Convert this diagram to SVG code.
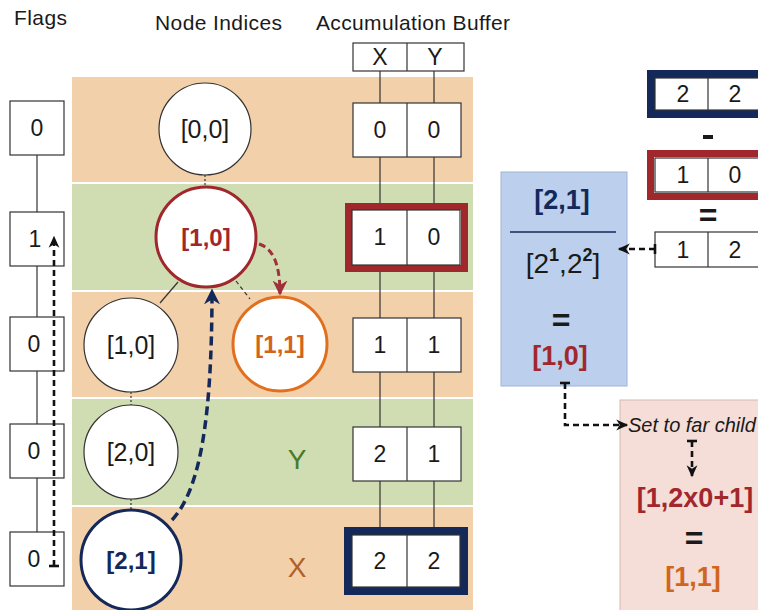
<svg xmlns="http://www.w3.org/2000/svg" width="758" height="610" viewBox="0 0 758 610">
<style>
text{font-family:"Liberation Sans",Arial,sans-serif;fill:#1a1a1a}
.hdr{font-size:21px}
.box{fill:#fff;stroke:#333;stroke-width:1.2}
.num{font-size:23px;text-anchor:middle}
.nd{fill:#fff;stroke:#333;stroke-width:1.2}
.ntx{font-size:25px;text-anchor:middle}
.btx{font-size:24px;font-weight:bold;text-anchor:middle}
.big{font-size:27px;font-weight:bold;text-anchor:middle}
.eq{font-size:32px;font-weight:bold;text-anchor:middle}
.ln{stroke:#333;stroke-width:1.2;fill:none}
.dash{stroke:#111;stroke-width:2.6;fill:none;stroke-dasharray:6 4}
.tick{stroke:#111;stroke-width:2.6}
</style>
<defs>
<marker id="ah" viewBox="0 0 10 10" refX="9" refY="5" markerWidth="13" markerHeight="12" markerUnits="userSpaceOnUse" orient="auto"><path d="M0,0.5 L10,5 L0,9.5 L3,5 z" fill="#111"/></marker>
<marker id="ahr" viewBox="0 0 10 10" refX="9" refY="5" markerWidth="15" markerHeight="15" markerUnits="userSpaceOnUse" orient="auto"><path d="M0,0 L10,5 L0,10 L3,5 z" fill="#A0303A"/></marker>
<marker id="ahb" viewBox="0 0 10 10" refX="9" refY="5" markerWidth="16" markerHeight="16" markerUnits="userSpaceOnUse" orient="auto"><path d="M0,0 L10,5 L0,10 L3,5 z" fill="#14285A"/></marker>
</defs>
<rect width="758" height="610" fill="#fff"/>
<!-- headers -->
<text class="hdr" x="14" y="25" textLength="53">Flags</text>
<text class="hdr" x="155" y="30" textLength="127">Node Indices</text>
<text class="hdr" x="316" y="30" textLength="194">Accumulation Buffer</text>
<!-- bands -->
<g id="bands">
<rect x="72" y="77" width="401" height="105" fill="#F2D0AA"/>
<rect x="72" y="184" width="401" height="106" fill="#D0DDB3"/>
<rect x="72" y="292" width="401" height="105" fill="#F2D0AA"/>
<rect x="72" y="399" width="401" height="106" fill="#D0DDB3"/>
<rect x="72" y="507" width="401" height="103" fill="#F2D0AA"/>
</g>
<!-- structural lines -->
<g id="connectors">
<line class="ln" x1="37" y1="155" x2="37" y2="532"/>
<line class="ln" x1="380" y1="71" x2="380" y2="530"/>
<line class="ln" x1="434" y1="71" x2="434" y2="530"/>
<line class="ln" x1="205" y1="175" x2="205" y2="188" stroke-dasharray="2 2"/>
<line class="ln" x1="178" y1="282" x2="160" y2="303"/>
<line class="ln" x1="236" y1="281" x2="250" y2="299" stroke-dasharray="4 3"/>
<line class="ln" x1="131" y1="392" x2="131" y2="405" stroke-dasharray="2 2"/>
<line class="ln" x1="131" y1="499" x2="131" y2="510" stroke-dasharray="2 2"/>
</g>
<!-- flags -->
<g id="flag0"><rect class="box" x="10" y="101" width="54" height="54"/><text class="num" x="37" y="136">0</text></g>
<g id="flag1"><rect class="box" x="10" y="212" width="54" height="54"/><text class="num" x="35" y="247">1</text></g>
<g id="flag2"><rect class="box" x="10" y="317" width="54" height="54"/><text class="num" x="34" y="352">0</text></g>
<g id="flag3"><rect class="box" x="10" y="424" width="54" height="54"/><text class="num" x="34" y="459">0</text></g>
<g id="flag4"><rect class="box" x="10" y="532" width="54" height="54"/><text class="num" x="34" y="567">0</text></g>
<!-- nodes -->
<g id="n00"><circle class="nd" cx="205" cy="129" r="46"/><text class="ntx" x="205" y="138">[0,0]</text></g>
<g id="n10r"><circle cx="206" cy="237" r="50" fill="#fff" stroke="#A0282D" stroke-width="3"/><text class="btx" x="206" y="246" style="fill:#A0282D">[1,0]</text></g>
<g id="n10"><circle class="nd" cx="131" cy="345" r="47"/><text class="ntx" x="131" y="354">[1,0]</text></g>
<g id="n11"><circle cx="280" cy="344" r="47" fill="#fff" stroke="#E07020" stroke-width="3"/><text class="btx" x="280" y="353" style="fill:#D2651E">[1,1]</text></g>
<g id="n20"><circle class="nd" cx="131" cy="452" r="47"/><text class="ntx" x="131" y="461">[2,0]</text></g>
<g id="n21"><circle cx="131" cy="560" r="50" fill="#fff" stroke="#14285A" stroke-width="3"/><text class="btx" x="131" y="569" style="fill:#14285A">[2,1]</text></g>
<!-- axis labels -->
<text x="297" y="469" font-size="28" text-anchor="middle" style="fill:#4A7A2A">Y</text>
<text x="297" y="577" font-size="28" text-anchor="middle" style="fill:#B0602A">X</text>
<!-- accumulation buffer -->
<g id="bufhdr"><rect class="box" x="353" y="43" width="111" height="28"/><line class="ln" x1="407" y1="43" x2="407" y2="71"/><text class="num" x="380" y="65">X</text><text class="num" x="435" y="65">Y</text></g>
<g id="buf0"><rect class="box" x="353" y="103" width="108" height="54"/><line class="ln" x1="407" y1="103" x2="407" y2="157"/><text class="num" x="380" y="138">0</text><text class="num" x="434" y="138">0</text></g>
<g id="buf1"><rect x="348.5" y="206.5" width="116" height="62" fill="#fff" stroke="#A0282D" stroke-width="7"/><rect class="box" x="352" y="210" width="108" height="55"/><line class="ln" x1="407" y1="210" x2="407" y2="265"/><text class="num" x="380" y="245">1</text><text class="num" x="434" y="245">0</text></g>
<g id="buf2"><rect class="box" x="353" y="318" width="108" height="54"/><line class="ln" x1="407" y1="318" x2="407" y2="372"/><text class="num" x="380" y="353">1</text><text class="num" x="434" y="353">1</text></g>
<g id="buf3"><rect class="box" x="353" y="427" width="108" height="54"/><line class="ln" x1="407" y1="427" x2="407" y2="481"/><text class="num" x="380" y="462">2</text><text class="num" x="434" y="462">1</text></g>
<g id="buf4"><rect x="348" y="531" width="116" height="60" fill="#fff" stroke="#14285A" stroke-width="8"/><rect class="box" x="352" y="535" width="108" height="52"/><line class="ln" x1="407" y1="535" x2="407" y2="587"/><text class="num" x="380" y="569">2</text><text class="num" x="434" y="569">2</text></g>
<!-- right side subtraction -->
<g id="sub1"><rect x="651" y="74" width="120" height="40" fill="#fff" stroke="#14285A" stroke-width="8"/><rect class="box" x="655" y="78" width="112" height="32"/><line class="ln" x1="708" y1="78" x2="708" y2="110"/><text class="num" x="683" y="102">2</text><text class="num" x="735" y="102">2</text></g>
<rect x="703" y="135" width="10" height="4" fill="#1a1a1a"/>
<g id="sub2"><rect x="650.5" y="153.5" width="120" height="43" fill="#fff" stroke="#A0282D" stroke-width="7"/><rect class="box" x="655" y="158" width="112" height="34"/><line class="ln" x1="708" y1="158" x2="708" y2="192"/><text class="num" x="683" y="183">1</text><text class="num" x="735" y="183">0</text></g>
<text class="eq" x="708" y="226">=</text>
<g id="sub3"><rect class="box" x="655" y="232" width="112" height="35"/><line class="ln" x1="708" y1="232" x2="708" y2="267"/><text class="num" x="683" y="258">1</text><text class="num" x="735" y="258">2</text></g>
<!-- blue panel -->
<g id="panel-div">
<rect x="501" y="172" width="126" height="214" fill="#BCD0EE" stroke="#9FB4D6" stroke-width="1"/>
<text class="big" x="562" y="209" style="fill:#14285A">[2,1]</text>
<line x1="510" y1="232" x2="616" y2="232" stroke="#14285A" stroke-width="1.5"/>
<text x="563" y="273" font-size="28" text-anchor="middle">[2<tspan font-size="18" font-weight="bold" dy="-12">1</tspan><tspan dy="12">,2</tspan><tspan font-size="18" font-weight="bold" dy="-12">2</tspan><tspan dy="12">]</tspan></text>
<text class="eq" x="561" y="331">=</text>
<text class="big" x="560" y="365" style="fill:#A0282D">[1,0]</text>
</g>
<!-- pink panel -->
<g id="panel-child">
<rect x="620" y="400" width="145" height="215" fill="#F5DDD8" stroke="#D8B8B0" stroke-width="1"/>
<text x="628" y="432" font-size="20" font-style="italic">Set to far child</text>
<text class="big" x="695" y="507" style="fill:#A0282D">[1,2x0+1]</text>
<text class="eq" x="694" y="549">=</text>
<text class="big" x="693" y="586" style="fill:#D2651E">[1,1]</text>
</g>
<!-- arrows -->
<g id="arrows">
<path class="dash" d="M54,566 L54,237" marker-end="url(#ah)"/>
<line class="tick" x1="49" y1="566" x2="59" y2="566"/>
<path d="M259,244 C272,248 280,262 280,294" fill="none" stroke="#A0303A" stroke-width="3" stroke-dasharray="7 4" marker-end="url(#ahr)"/>
<path d="M172,520 C200,490 212,420 212,290" fill="none" stroke="#14285A" stroke-width="3.5" stroke-dasharray="9 5" marker-end="url(#ahb)"/>
<path class="dash" d="M655,249 L619,249" marker-end="url(#ah)"/>
<line class="tick" x1="655" y1="244" x2="655" y2="254"/>
<path class="dash" d="M565,383 L565,425 L627,425" marker-end="url(#ah)"/>
<line class="tick" x1="560" y1="383" x2="570" y2="383"/>
<path class="dash" d="M692,441 L692,476" marker-end="url(#ah)"/>
<line class="tick" x1="687" y1="441" x2="697" y2="441"/>
</g>
</svg>
